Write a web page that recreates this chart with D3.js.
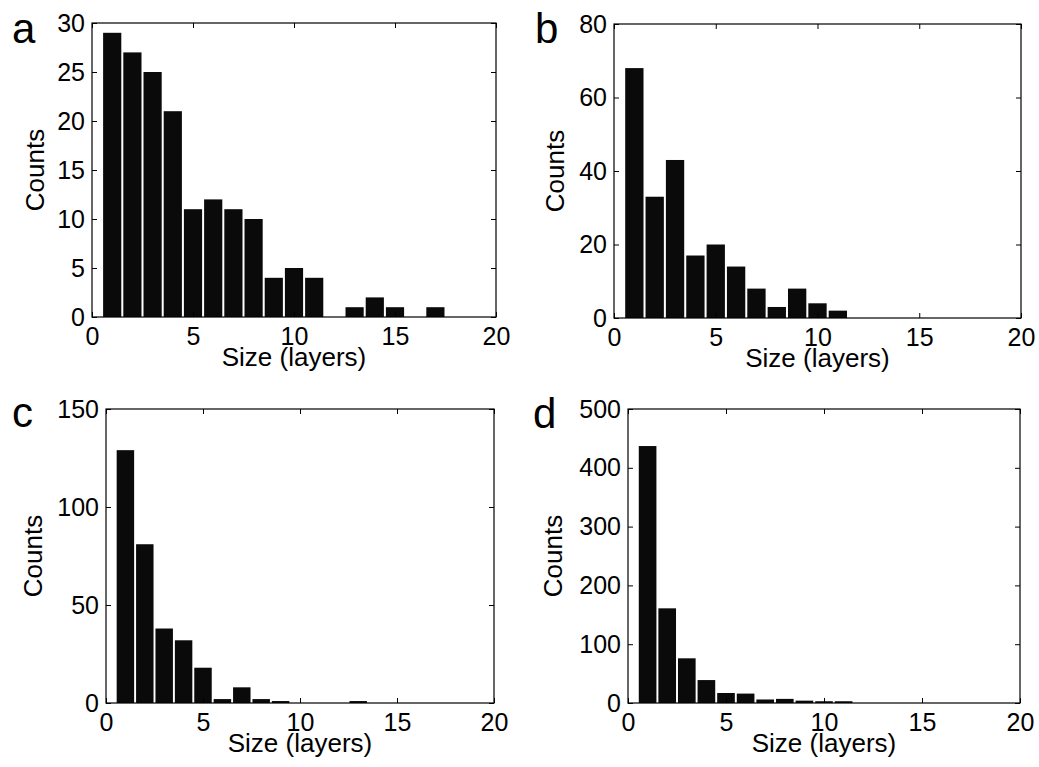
<!DOCTYPE html>
<html>
<head>
<meta charset="utf-8">
<script src="https://cdn.jsdelivr.net/npm/d3@7"></script>
<style>
  body { margin: 0; background: #fff; }
  text { font-family: "Liberation Sans", Arial, Helvetica, sans-serif; fill: #000; }
</style>
</head>
<body>
<div class="chart"></div>
<script>
// histogram counts per size bin (layers 1..n)
var countsA = [29, 27, 25, 21, 11, 12, 11, 10, 4, 5, 4, 0, 1, 2, 1, 0, 1];
var countsB = [68, 33, 43, 17, 20, 14, 8, 3, 8, 4, 2];
var countsC = [129, 81, 38, 32, 18, 2, 8, 2, 1, 0, 0, 0, 1];
var countsD = [437, 161, 76, 39, 17, 16, 6, 7, 4, 3, 3];

var yTicksA = [0, 5, 10, 15, 20, 25, 30];
var yTicksB = [0, 20, 40, 60, 80];
var yTicksC = [0, 50, 100, 150];
var yTicksD = [0, 100, 200, 300, 400, 500];
var xTicks = [0, 5, 10, 15, 20];

var panelLetters = ["a", "b", "c", "d"];
var xLabel = "Size (layers)";
var yLabel = "Counts";

var svgWidth = 1039;
var svgHeight = 767;

var svg = d3.select(".chart")
  .append("svg")
  .attr("width", svgWidth)
  .attr("height", svgHeight);

// layout of the four plot boxes (page pixels)
var panels = [
  { letter: panelLetters[0], counts: countsA, yTicks: yTicksA, left: 92, right: 496, top: 23, bottom: 317, letterX: 12, letterY: 43, countsX: 35 },
  { letter: panelLetters[1], counts: countsB, yTicks: yTicksB, left: 614, right: 1021, top: 24, bottom: 318, letterX: 535, letterY: 43, countsX: 555 },
  { letter: panelLetters[2], counts: countsC, yTicks: yTicksC, left: 106, right: 494, top: 409, bottom: 703, letterX: 12, letterY: 427, countsX: 33 },
  { letter: panelLetters[3], counts: countsD, yTicks: yTicksD, left: 628, right: 1020, top: 409, bottom: 703, letterX: 533, letterY: 428, countsX: 553 }
];

var fontSize = 25;
var tickLen = 5;

panels.forEach(function(p) {
  var width = p.right - p.left;
  var height = p.bottom - p.top;

  var x = d3.scaleLinear().domain([0, 20]).range([0, width]);
  var y = d3.scaleLinear().domain([0, d3.max(p.yTicks)]).range([height, 0]);

  var g = svg.append("g")
    .attr("transform", `translate(${p.left}, ${p.top})`);

  // bars
  var bins = p.counts.map(function(c, i) { return { size: i + 1, count: c }; });
  g.selectAll("rect.bar")
    .data(bins.filter(function(d) { return d.count > 0; }))
    .enter()
    .append("rect")
    .attr("class", "bar")
    .attr("x", d => x(d.size - 0.45))
    .attr("width", d => x(d.size + 0.45) - x(d.size - 0.45))
    .attr("y", d => y(d.count))
    .attr("height", d => y(0) - y(d.count))
    .attr("fill", "#0a0a0a");

  // axes, ticks pointing inward
  var bottomAxis = d3.axisBottom(x).tickValues(xTicks).tickSize(-tickLen).tickPadding(10);
  var leftAxis = d3.axisLeft(y).tickValues(p.yTicks).tickSize(-tickLen).tickPadding(7);
  var topAxis = d3.axisTop(x).tickValues(xTicks).tickSize(-tickLen).tickFormat("");
  var rightAxis = d3.axisRight(y).tickValues(p.yTicks).tickSize(-tickLen).tickFormat("");

  var axes = [
    g.append("g").attr("transform", `translate(0, ${height})`).call(bottomAxis),
    g.append("g").call(leftAxis),
    g.append("g").call(topAxis),
    g.append("g").attr("transform", `translate(${width}, 0)`).call(rightAxis)
  ];
  axes.forEach(function(a) {
    a.select(".domain").remove();
    a.selectAll("line").attr("stroke", "#000").attr("stroke-width", 1);
    a.selectAll("text")
      .style("font-size", fontSize + "px")
      .style("font-family", "'Liberation Sans', Arial, Helvetica, sans-serif")
      .attr("fill", "#000");
  });

  // frame
  g.append("rect")
    .attr("x", 0)
    .attr("y", 0)
    .attr("width", width)
    .attr("height", height)
    .attr("fill", "none")
    .attr("stroke", "#000")
    .attr("stroke-width", 1.2);

  // x label
  g.append("text")
    .attr("x", width / 2)
    .attr("y", height + 49)
    .attr("text-anchor", "middle")
    .style("font-size", "26px")
    .text(xLabel);

  // y label
  svg.append("text")
    .attr("transform", `translate(${p.countsX}, ${p.top + height / 2}) rotate(-90)`)
    .attr("dy", "0.36em")
    .attr("text-anchor", "middle")
    .style("font-size", "26px")
    .text(yLabel);

  // panel letter
  svg.append("text")
    .attr("x", p.letterX)
    .attr("y", p.letterY)
    .style("font-size", "42px")
    .text(p.letter);
});
</script>
</body>
</html>
